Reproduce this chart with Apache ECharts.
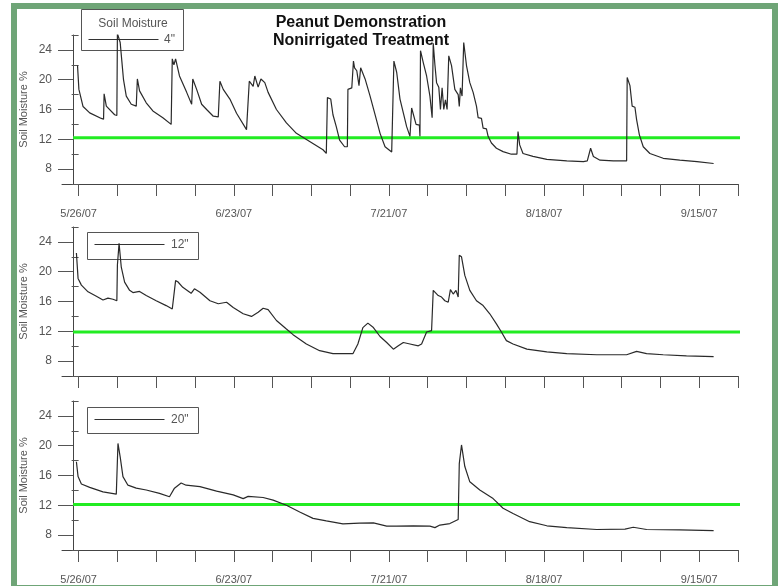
<html>
  <head>
    <meta charset="utf-8" />
    <title>Peanut Demonstration - Nonirrigated Treatment</title>
    <style>
      body {
        margin: 0;
        padding: 0;
        background: #fff;
      }
      #chart {
        width: 778px;
        height: 586px;
      }
    </style>
  </head>
  <body>
    <div id="chart"></div>
    <script src="https://cdn.jsdelivr.net/npm/echarts@6/dist/echarts.min.js"></script>
    <script type="text/javascript">
      // days counted from 5/26/07
      var dateLabels = ['5/26/07', '6/23/07', '7/21/07', '8/18/07', '9/15/07'];
      var labelDays = [0, 28, 56, 84, 112];
      var weekTicks = [0, 7, 14, 21, 28, 35, 42, 49, 56, 63, 70, 77, 84, 91, 98, 105, 112, 119];
      var majorY = [8, 12, 16, 20, 24];
      var minorY = [6, 10, 14, 18, 22, 26];
      var depthNames = ['4"', '12"', '20"'];
      var thresholds = [12.2, 11.9, 12.1];

      var days4 = [-0.2, 0.05, 0.8, 2.0, 4.1, 4.5, 4.6, 5.0, 6.5, 6.9, 7.0, 7.5, 7.8, 8.1, 8.6, 9.5, 10.4, 10.6, 11.0, 12.2,
        13.4, 15.2, 16.7, 16.9, 17.2, 17.5, 18.2, 19.5, 20.4, 20.6, 21.3, 22.2, 23.1, 24.3, 25.2, 25.5, 26.1, 27.3, 28.5, 30.3,
        30.6, 30.8, 31.5, 31.8, 32.4, 32.9, 33.6, 34.2, 35.7, 37.5, 39.3, 41.7, 44.1, 44.7, 44.9, 45.5, 45.9, 46.5, 47.1, 48.0,
        48.5, 48.6, 49.3, 49.6, 49.8, 50.2, 50.6, 50.9, 51.7, 52.6, 53.5, 54.4, 55.3, 56.5, 56.8, 56.9, 57.4, 58.0, 58.6, 59.2,
        59.8, 60.1, 60.4, 60.9, 61.5, 61.6, 61.7, 62.2, 62.8, 63.4, 63.8, 64.0, 64.3, 64.6, 65.0, 65.3, 65.6, 65.9, 66.2, 66.5,
        66.8, 67.3, 67.9, 68.5, 68.7, 68.9, 69.2, 69.5, 70.0, 70.6, 71.2, 71.8, 72.1, 72.7, 73.0, 73.6, 73.9, 74.5, 75.4, 76.6,
        78.1, 79.1, 79.3, 79.6, 80.2, 82.0, 84.5, 88.1, 91.1, 91.8, 92.4, 92.9, 94.1, 96.5, 98.9, 99.0, 99.5, 99.9, 100.4, 100.7,
        101.2, 101.9, 103.1, 105.5, 108.5, 111.6, 114.6];
      var moist4 = [21.9, 18.7, 16.4, 15.55, 14.8, 14.7, 18.1, 16.45, 15.3, 15.2, 26.2, 25.0, 22.5, 20.0, 17.8, 16.7, 16.45, 20.1, 18.5, 16.9,
        15.8, 14.9, 14.0, 22.8, 22.0, 22.8, 20.5, 18.3, 16.7, 20.1, 18.7, 16.7, 16.0, 15.1, 15.0, 19.8, 18.7, 17.4, 15.5, 13.3,
        13.05, 19.8, 19.1, 20.5, 19.0, 20.1, 19.6, 18.3, 16.0, 14.2, 12.8, 11.7, 10.6, 10.1, 17.6, 17.4, 15.3, 13.7, 11.9, 11.0,
        11.0, 18.7, 18.9, 22.5, 21.6, 21.2, 19.2, 21.6, 20.1, 17.8, 15.3, 12.8, 11.0, 10.3, 10.35, 22.5, 21.0, 17.4, 15.55, 13.7,
        12.4, 16.2, 16.3, 14.0, 13.9, 12.4, 23.9, 22.3, 20.5, 17.8, 14.9, 24.9, 22.0, 19.6, 19.0, 16.0, 18.9, 16.0, 17.3, 16.0,
        23.2, 21.9, 18.7, 18.0, 16.4, 18.9, 17.8, 25.0, 21.9, 19.6, 18.3, 16.45, 14.9, 14.8, 13.5, 13.4, 12.4, 11.5, 10.8, 10.35,
        10.0, 10.0, 13.05, 11.25, 10.1, 9.7, 9.3, 9.1, 9.0, 9.1, 10.8, 9.7, 9.2, 9.1, 9.1, 20.3, 19.2, 16.45, 16.3, 14.65,
        12.6, 11.0, 10.1, 9.45, 9.2, 9.0, 8.75];

      var days12 = [-0.4, -0.1, 0.5, 1.7, 3.2, 4.4, 5.3, 6.2, 6.9, 7.0, 7.3, 7.7, 8.3, 9.2, 9.8, 11.0, 12.2, 14.0, 15.8, 16.9,
        17.5, 17.9, 18.8, 20.3, 20.9, 21.9, 23.7, 25.2, 26.7, 27.9, 29.7, 31.2, 32.4, 33.3, 34.2, 35.7, 37.5, 38.7, 41.1, 43.5,
        45.9, 49.5, 50.4, 51.3, 52.2, 53.2, 54.4, 55.6, 56.8, 57.7, 58.6, 59.8, 61.3, 61.9, 62.8, 63.7, 64.0, 64.9, 65.5, 66.1,
        66.7, 67.1, 67.6, 68.1, 68.5, 68.7, 69.1, 69.7, 70.6, 71.8, 73.0, 74.2, 75.4, 76.3, 77.2, 78.4, 80.9, 84.5, 88.1, 93.5,
        98.9, 100.7, 102.5, 105.5, 109.7, 114.6];
      var moist12 = [22.5, 19.1, 18.2, 17.3, 16.7, 16.2, 16.45, 16.3, 16.1, 20.9, 23.8, 20.6, 18.6, 17.5, 17.2, 17.35, 16.8, 16.1, 15.45, 15.0,
        18.8, 18.65, 17.9, 17.1, 17.7, 17.25, 16.1, 15.7, 15.9, 15.2, 14.35, 14.0, 14.55, 15.1, 14.9, 13.45, 12.3, 11.55, 10.3, 9.4,
        9.0, 9.0, 10.3, 12.5, 13.1, 12.5, 11.3, 10.5, 9.6, 10.05, 10.5, 10.3, 10.05, 10.3, 11.9, 12.1, 17.5, 16.8, 16.6, 16.1,
        15.9, 17.6, 17.0, 17.5, 16.6, 22.2, 22.0, 19.5, 17.5, 16.1, 15.45, 14.35, 13.0, 11.9, 10.75, 10.3, 9.6, 9.25, 9.0, 8.85,
        8.85, 9.3, 9.0, 8.85, 8.7, 8.6];

      var days20 = [-0.4, -0.1, 0.5, 2.0, 4.4, 6.8, 7.1, 7.5, 8.0, 8.9, 10.4, 12.2, 14.6, 16.4, 17.3, 18.5, 19.4, 21.9, 24.9, 27.9,
        29.7, 30.6, 33.3, 35.1, 37.5, 39.9, 42.3, 44.7, 47.7, 50.7, 53.2, 55.6, 57.4, 60.4, 63.4, 64.3, 65.2, 67.0, 68.5, 68.7,
        69.1, 69.7, 70.6, 72.4, 74.8, 76.6, 78.4, 81.4, 84.5, 88.1, 93.5, 98.6, 100.1, 102.5, 108.5, 114.6];
      var moist20 = [17.85, 15.85, 14.85, 14.4, 13.8, 13.5, 20.3, 18.5, 15.85, 14.7, 14.3, 14.05, 13.6, 13.15, 14.3, 15.0, 14.7, 14.5, 13.9, 13.4,
        12.9, 13.2, 13.05, 12.7, 12.0, 11.1, 10.25, 9.9, 9.5, 9.6, 9.65, 9.2, 9.2, 9.25, 9.2, 9.0, 9.35, 9.55, 10.1, 17.6,
        20.1, 17.2, 15.15, 14.05, 12.9, 11.6, 10.9, 9.8, 9.25, 9.0, 8.75, 8.8, 9.05, 8.75, 8.7, 8.6];

      var dayLists = [days4, days12, days20];
      var moistLists = [moist4, moist12, moist20];

      var fontFamily = 'Liberation Sans, Arial, sans-serif';
      var panelTops = [35, 227, 401];
      var showDates = [true, false, true];

      function pairs(xs, ys) {
        return xs.map(function (x, i) {
          return [x, ys[i]];
        });
      }

      var grids = [], xAxes = [], yAxes = [], series = [];
      panelTops.forEach(function (top, i) {
        grids.push({ left: 62, top: top, width: 676, height: 149 });
        xAxes.push({
          type: 'value',
          gridIndex: i,
          min: -3,
          max: 119,
          axisLine: { onZero: false, lineStyle: { color: '#444', width: 1 } },
          axisTick: { length: 12, customValues: weekTicks, lineStyle: { color: '#555' } },
          axisLabel: {
            show: showDates[i],
            customValues: labelDays,
            margin: 24,
            color: '#555',
            fontSize: 11,
            fontFamily: fontFamily,
            formatter: function (v) {
              return dateLabels[labelDays.indexOf(Math.round(v))];
            }
          },
          splitLine: { show: false }
        });
        yAxes.push({
          type: 'value',
          gridIndex: i,
          position: 'left',
          offset: -11,
          min: 6,
          max: 26,
          name: 'Soil Moisture %',
          nameLocation: 'middle',
          nameGap: 44,
          nameMoveOverlap: false,
          nameTextStyle: { color: '#555', fontSize: 11, fontFamily: fontFamily },
          axisLine: { onZero: false, lineStyle: { color: '#444', width: 1 } },
          axisTick: { length: 15, customValues: majorY, lineStyle: { color: '#555' } },
          axisLabel: { customValues: majorY, margin: 21, color: '#555', fontSize: 12, fontFamily: fontFamily },
          splitLine: { show: false }
        });
        yAxes.push({
          type: 'value',
          gridIndex: i,
          position: 'left',
          offset: -11,
          min: 6,
          max: 26,
          axisLine: { show: false },
          axisTick: { length: 7, customValues: minorY, lineStyle: { color: '#555' } },
          axisLabel: { show: false },
          splitLine: { show: false }
        });
        series.push({
          type: 'line',
          name: 'threshold ' + depthNames[i],
          xAxisIndex: i,
          yAxisIndex: i * 2,
          data: [[-1, thresholds[i]], [119.9, thresholds[i]]],
          clip: false,
          showSymbol: false,
          silent: true,
          z: 2,
          lineStyle: { color: '#22ec22', width: 3 }
        });
        series.push({
          type: 'line',
          name: depthNames[i],
          xAxisIndex: i,
          yAxisIndex: i * 2,
          data: pairs(dayLists[i], moistLists[i]),
          showSymbol: false,
          z: 3,
          lineStyle: { color: '#2a2a2a', width: 1.2 }
        });
      });

      // legend boxes drawn by hand, like the original plot
      function legendBox(x, y, w, h, lineY, label, labelX) {
        return [
          { type: 'rect', shape: { x: x, y: y, width: w, height: h }, style: { fill: 'none', stroke: '#555', lineWidth: 1 } },
          { type: 'line', shape: { x1: x + 7, y1: lineY, x2: x + 77, y2: lineY }, style: { stroke: '#333', lineWidth: 1 } },
          {
            type: 'text',
            style: { text: label, x: labelX, y: lineY, textVerticalAlign: 'middle', fill: '#555', font: '12px ' + fontFamily }
          }
        ];
      }

      var graphics = [
        {
          type: 'rect',
          shape: { x: 14, y: 6, width: 761, height: 582 },
          style: { fill: 'none', stroke: '#6fa577', lineWidth: 6 }
        },
        {
          type: 'text',
          style: {
            text: 'Peanut Demonstration\nNonirrigated Treatment',
            x: 361,
            y: 14,
            textAlign: 'center',
            textVerticalAlign: 'top',
            lineHeight: 18,
            fill: '#111',
            font: 'bold 16px ' + fontFamily
          }
        },
        {
          type: 'text',
          style: {
            text: 'Soil Moisture',
            x: 133,
            y: 24,
            textAlign: 'center',
            textVerticalAlign: 'middle',
            fill: '#555',
            font: '12px ' + fontFamily
          }
        }
      ]
        .concat(legendBox(81.5, 9.5, 102, 41, 39.5, depthNames[0], 164))
        .concat(legendBox(87.5, 232.5, 111, 27, 244.5, depthNames[1], 171))
        .concat(legendBox(87.5, 407.5, 111, 26, 419.5, depthNames[2], 171));

      var chart = echarts.init(document.getElementById('chart'));
      chart.setOption({
        animation: false,
        backgroundColor: '#fff',
        grid: grids,
        xAxis: xAxes,
        yAxis: yAxes,
        series: series,
        graphic: graphics
      });
    </script>
  </body>
</html>
